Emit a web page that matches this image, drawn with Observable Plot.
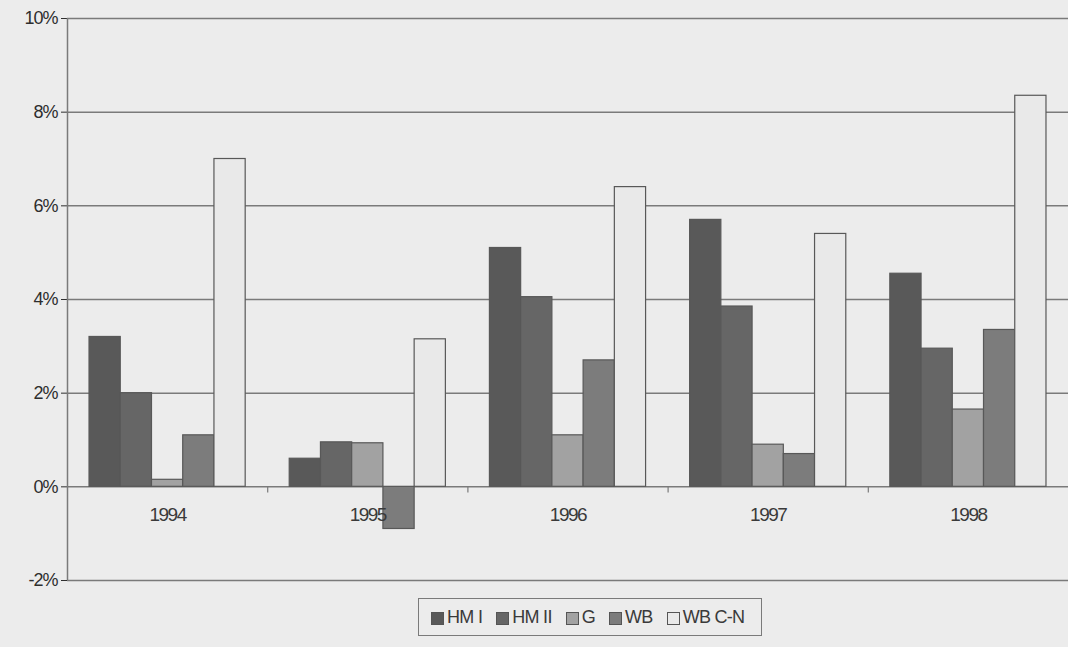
<!DOCTYPE html>
<html>
<head>
<meta charset="utf-8">
<script src="https://cdn.jsdelivr.net/npm/d3@7"></script>
<script src="https://cdn.jsdelivr.net/npm/@observablehq/plot@0.6"></script>
<style>
  html, body { margin: 0; padding: 0; background: #ececec; }
  #chart { position: relative; width: 1068px; height: 647px; overflow: hidden; font-family: "Liberation Sans", Arial, sans-serif; }
  #chart svg g[aria-label="y-axis tick label"] text { letter-spacing: -1px; }
  #chart svg g[aria-label="text"] text { letter-spacing: -1.5px; }
  #legend {
    position: absolute; left: 418px; top: 598px; width: 344px; height: 38px;
    border: 1.5px solid #7a7a7a; box-sizing: border-box;
    display: flex; align-items: center; padding-left: 12px;
    font-size: 18px; color: #3a3a3a; letter-spacing: -0.7px; white-space: nowrap;
  }
  #legend .item { display: flex; align-items: center; margin-right: 14px; white-space: nowrap; flex: none; }
  #legend .sw { width: 11px; height: 11px; border: 1px solid #555; margin-right: 3px; margin-top: 3px; flex: none; }
</style>
</head>
<body>
<div id="chart"></div>
<script>
const years = ["1994", "1995", "1996", "1997", "1998"];
const seriesNames = ["HM I", "HM II", "G", "WB", "WB C-N"];
const hmI   = [3.2, 0.6, 5.1, 5.7, 4.55];
const hmII  = [2.0, 0.95, 4.05, 3.85, 2.95];
const g     = [0.15, 0.93, 1.1, 0.9, 1.65];
const wb    = [1.1, -0.9, 2.7, 0.7, 3.35];
const wbCN  = [7.0, 3.15, 6.4, 5.4, 8.35];
const yTicks = [-2, 0, 2, 4, 6, 8, 10];
const colors = ["#595959", "#666666", "#a2a2a2", "#7c7c7c", "#e9e9e9"];

const seriesValues = [hmI, hmII, g, wb, wbCN];
const data = [];
years.forEach((yr, i) => {
  seriesNames.forEach((s, j) => {
    data.push({year: yr, yi: i, series: s, si: j, value: seriesValues[j][i]});
  });
});

const pad = 0.11, bw = 0.156;

const chart = Plot.plot({
  width: 1068,
  height: 597,
  marginLeft: 67,
  marginRight: 0,
  marginTop: 18,
  marginBottom: 17,
  style: {background: "#ececec", fontFamily: "Liberation Sans, Arial, sans-serif", fontSize: "18px", color: "#2e2e2e"},
  x: {domain: [0, years.length], axis: null},
  y: {domain: [-2, 10], ticks: yTicks, tickFormat: d => d + "%", tickSize: 6, tickPadding: 4, label: null},
  color: {domain: seriesNames, range: colors},
  marks: [
    Plot.ruleY(yTicks, {x1: 0, x2: years.length, stroke: "#7a7a7a", strokeWidth: 1.5}),
    Plot.ruleX([0], {y1: -2, y2: 10, stroke: "#7a7a7a", strokeWidth: 1.5}),
    Plot.ruleX(d3.range(1, years.length), {y1: 0, y2: -0.13, stroke: "#7a7a7a", strokeWidth: 1.2}),
    Plot.rectY(data, {
      x1: d => d.yi + pad + d.si * bw,
      x2: d => d.yi + pad + (d.si + 1) * bw,
      y1: 0,
      y2: "value",
      fill: "series",
      stroke: "#585858",
      strokeWidth: 1.2
    }),
    Plot.text(years, {x: (d, i) => i + 0.5, y: 0, dy: 28, text: d => d, fontSize: 19, fill: "#3a3a3a"})
  ]
});
document.getElementById("chart").appendChild(chart);

const legend = document.createElement("div");
legend.id = "legend";
seriesNames.forEach((s, j) => {
  const item = document.createElement("div");
  item.className = "item";
  const sw = document.createElement("div");
  sw.className = "sw";
  sw.style.background = colors[j];
  const lab = document.createElement("span");
  lab.textContent = s;
  item.appendChild(sw);
  item.appendChild(lab);
  legend.appendChild(item);
});
document.getElementById("chart").appendChild(legend);
</script>
</body>
</html>
